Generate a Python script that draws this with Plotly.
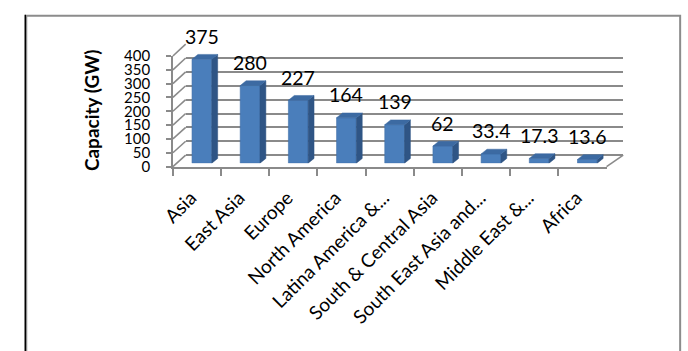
import plotly.graph_objects as go

# ---- data -------------------------------------------------------------
regions = ["Asia", "East Asia", "Europe", "North America", "Latina America &...",
           "South & Central Asia", "South East Asia and...", "Middle East &...", "Africa"]
capacity_gw = [375, 280, 227, 164, 139, 62, 33.4, 17.3, 13.6]
y_ticks = [0, 50, 100, 150, 200, 250, 300, 350, 400]
y_title = "Capacity (GW)"

# ---- canvas / geometry (pixels) --------------------------------------
W, H = 688, 351
FONT = "Lato, 'Open Sans', 'DejaVu Sans', sans-serif"
GRID = "#8a8a8a"
Y_MAX = 400


def fx(p):
    return p / W


def fy(p):
    return 1 - p / H


# front plane (axis), bar face plane, back wall plane
FRONT = dict(x0=163, x1=605, y0=165, ytop=48.5)
BARS = dict(x0=168, x1=610, y0=161.5, ytop=44.5)
BACK = dict(x0=176, x1=622, y0=153, ytop=36)


def dom(plane):
    return [fx(plane["x0"]), fx(plane["x1"])], [fy(plane["y0"]), fy(plane["ytop"])]


def plane_y(plane, v):
    return plane["y0"] + (plane["ytop"] - plane["y0"]) * v / Y_MAX


n = len(regions)
xpos = list(range(n))
bar_w = 0.41
# depth of each column (px) expressed in bar-axis units
cat_px = (BARS["x1"] - BARS["x0"]) / n
val_px = (BARS["y0"] - BARS["ytop"]) / Y_MAX
dx = 6 / cat_px
dy = 5 / val_px

side_x, side_y, top_x, top_y = [], [], [], []
for i, v in zip(xpos, capacity_gw):
    r = i + bar_w / 2
    l = i - bar_w / 2
    side_x += [r, r + dx, r + dx, r, r, None]
    side_y += [0, dy, v + dy, v, 0, None]
    top_x += [l, r, r + dx, l + dx, l, None]
    top_y += [v, v, v + dy, v + dy, v, None]

fig = go.Figure()

# back wall (gridlines only)
fig.add_trace(go.Scatter(x=xpos, y=capacity_gw, xaxis="x", yaxis="y", mode="markers",
                         marker=dict(opacity=0), hoverinfo="skip", showlegend=False))

# columns: front faces, side faces, top faces
fig.add_trace(go.Bar(x=xpos, y=capacity_gw, xaxis="x2", yaxis="y2", width=bar_w,
                     marker=dict(color="#4a7ebb", line=dict(color="#3f6fa8", width=0.6)),
                     showlegend=False))
fig.add_trace(go.Scatter(x=side_x, y=side_y, xaxis="x2", yaxis="y2", mode="lines",
                         fill="toself", fillcolor="#2f5585", line=dict(color="#2f5585", width=0.5),
                         hoverinfo="skip", showlegend=False))
fig.add_trace(go.Scatter(x=top_x, y=top_y, xaxis="x2", yaxis="y2", mode="lines",
                         fill="toself", fillcolor="#3c6aa2", line=dict(color="#3c6aa2", width=0.5),
                         hoverinfo="skip", showlegend=False))

# front axes carrying the tick labels
fig.add_trace(go.Scatter(x=regions, y=capacity_gw, xaxis="x3", yaxis="y3", mode="markers",
                         marker=dict(opacity=0), hoverinfo="skip", showlegend=False))

bx, by = dom(BACK)
cx, cy = dom(BARS)
ax, ay = dom(FRONT)

hidden_x = dict(range=[-0.5, n - 0.5], visible=False, fixedrange=True)
fig.update_layout(
    width=W, height=H, margin=dict(l=0, r=0, t=0, b=0),
    paper_bgcolor="white", plot_bgcolor="rgba(0,0,0,0)",
    font=dict(family=FONT, color="black"),
    xaxis=dict(domain=bx, anchor="y", **hidden_x),
    yaxis=dict(domain=by, anchor="x", range=[0, Y_MAX], tickvals=y_ticks, showticklabels=False,
               showgrid=True, gridcolor=GRID, gridwidth=1.6, zeroline=True, zerolinecolor=GRID,
               zerolinewidth=1.6, showline=False, ticks="", fixedrange=True),
    xaxis2=dict(domain=cx, anchor="y2", **hidden_x),
    yaxis2=dict(domain=cy, anchor="x2", range=[0, Y_MAX], visible=False, fixedrange=True),
    xaxis3=dict(domain=ax, anchor="y3", type="category", categoryorder="array",
                categoryarray=regions, range=[-0.5, n - 0.5], showline=True, linecolor=GRID,
                linewidth=1.6, ticks="outside", tickson="boundaries", ticklen=8, tickcolor=GRID,
                tickwidth=1.6, tickangle=-45, tickfont=dict(size=19), ticklabelstandoff=11,
                ticklabelshift=-6, showgrid=False, fixedrange=True),
    yaxis3=dict(domain=ay, anchor="x3", range=[0, Y_MAX], tickvals=y_ticks, showline=True,
                linecolor=GRID, linewidth=1.6, ticks="outside", ticklen=5, tickcolor=GRID,
                tickwidth=1.6, tickfont=dict(size=15), ticklabelstandoff=13,
                showgrid=False, zeroline=False, fixedrange=True),
)

# value labels above each column
for i, v in zip(xpos, capacity_gw):
    fig.add_annotation(x=i, y=v, xref="x2", yref="y2", text=f"{v:g}", showarrow=False,
                       yshift=23, xshift=0, xanchor="center", yanchor="middle",
                       font=dict(size=19.5, family=FONT))

# axis title
fig.add_annotation(x=fx(80), y=fy(105), xref="paper", yref="paper", text=f"<b>{y_title}</b>",
                   textangle=-90, showarrow=False, xanchor="center", yanchor="middle",
                   font=dict(size=19, family=FONT))

# side wall and floor edges joining the front axes to the back wall
line = dict(color=GRID, width=1.6)
for v in y_ticks:
    fig.add_shape(type="line", xref="paper", yref="paper",
                  x0=fx(FRONT["x0"]), y0=fy(plane_y(FRONT, v)),
                  x1=fx(BACK["x0"]), y1=fy(plane_y(BACK, v)), line=line)
fig.add_shape(type="line", xref="paper", yref="paper",
              x0=fx(FRONT["x1"]), y0=fy(FRONT["y0"]), x1=fx(BACK["x1"]), y1=fy(BACK["y0"]),
              line=line)

# chart frame
fig.add_shape(type="rect", xref="paper", yref="paper", x0=fx(13.5), y0=fy(400), x1=fx(680),
              y1=fy(6), line=dict(color="#8c8c8c", width=2))
fig.add_shape(type="line", xref="paper", yref="paper", x0=fx(12.5), y0=fy(400), x1=fx(12.5),
              y1=fy(5), line=dict(color="black", width=1.5))

fig.write_html("out.html")
